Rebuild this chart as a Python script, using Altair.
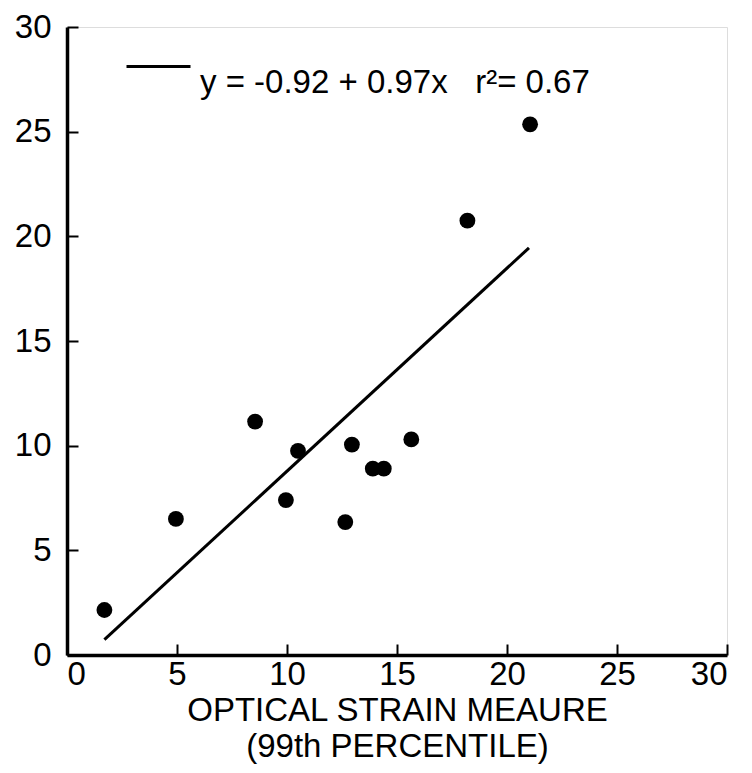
import altair as alt
import pandas as pd

# Data
x_vals = [1.7, 4.95, 8.55, 9.95, 10.5, 12.65, 12.95, 13.9, 14.4, 15.65, 18.2, 21.05]
y_vals = [2.15, 6.5, 11.15, 7.4, 9.75, 6.35, 10.05, 8.9, 8.9, 10.3, 20.75, 25.35]
fit_x = [1.7, 21.0]
fit_y = [0.73, 19.45]
fit_label = "y = -0.92 + 0.97x\u00a0\u00a0\u00a0r\u00b2= 0.67"
tick_values = [0, 5, 10, 15, 20, 25, 30]
x_title = ["OPTICAL STRAIN MEAURE", "(99th PERCENTILE)"]

pts = pd.DataFrame({"x": x_vals, "y": y_vals})
fit = pd.DataFrame({"x": fit_x, "y": fit_y, "label": [fit_label] * len(fit_x)})

W, H = 660, 628
FONT = "Liberation Sans"
FS = 33

xs = alt.Scale(domain=[0, 30], nice=False, zero=False)
ys = alt.Scale(domain=[0, 30], nice=False, zero=False)

points = alt.Chart(pts).mark_circle(size=250, color="black", opacity=1).encode(
    x=alt.X("x:Q", scale=xs, axis=alt.Axis(
        orient="bottom", values=tick_values, ticks=False, grid=False,
        domainColor="black", domainWidth=3.5,
        labelFontSize=FS, labelColor="black", labelPadding=3, labelFont=FONT,
        title=x_title, titleFontSize=FS, titleFontWeight="normal", titleColor="black",
        titleFont=FONT, titleLineHeight=36, titlePadding=3)),
    y=alt.Y("y:Q", scale=ys, axis=alt.Axis(
        orient="left", values=tick_values, ticks=False, grid=False,
        domainColor="black", domainWidth=3.5,
        labelFontSize=FS, labelColor="black", labelPadding=16, labelFont=FONT,
        title=None)),
)

line = alt.Chart(fit).mark_line(strokeWidth=3).encode(
    x=alt.X("x:Q", scale=xs, axis=alt.Axis(
        orient="top", offset=-H, values=tick_values, labels=False, domain=False,
        grid=False, tickSize=11, tickWidth=2, tickColor="black", title=None)),
    y=alt.Y("y:Q", scale=ys, axis=alt.Axis(
        orient="right", offset=-W, values=tick_values, labels=False, domain=False,
        grid=False, tickSize=11, tickWidth=2, tickColor="black", title=None)),
    color=alt.Color("label:N", scale=alt.Scale(range=["black"]), legend=alt.Legend(
        orient="none", legendX=58, legendY=6, title=None, padding=0,
        symbolType="stroke", symbolSize=4096, symbolStrokeWidth=3,
        symbolStrokeColor="black", labelFontSize=FS, labelFont=FONT,
        labelColor="black", labelOffset=8, labelLimit=700, labelBaseline="top")),
)

chart = (
    alt.layer(points, line)
    .resolve_axis(x="independent", y="independent")
    .properties(
        width=W, height=H,
        autosize=alt.AutoSizeParams(type="none"),
        padding={"left": 59, "top": 19, "right": 17, "bottom": 110},
    )
    .configure_view(stroke=None)
    .configure(font=FONT)
)

chart.save("out.html", embed_options={"renderer": "svg", "actions": False})
